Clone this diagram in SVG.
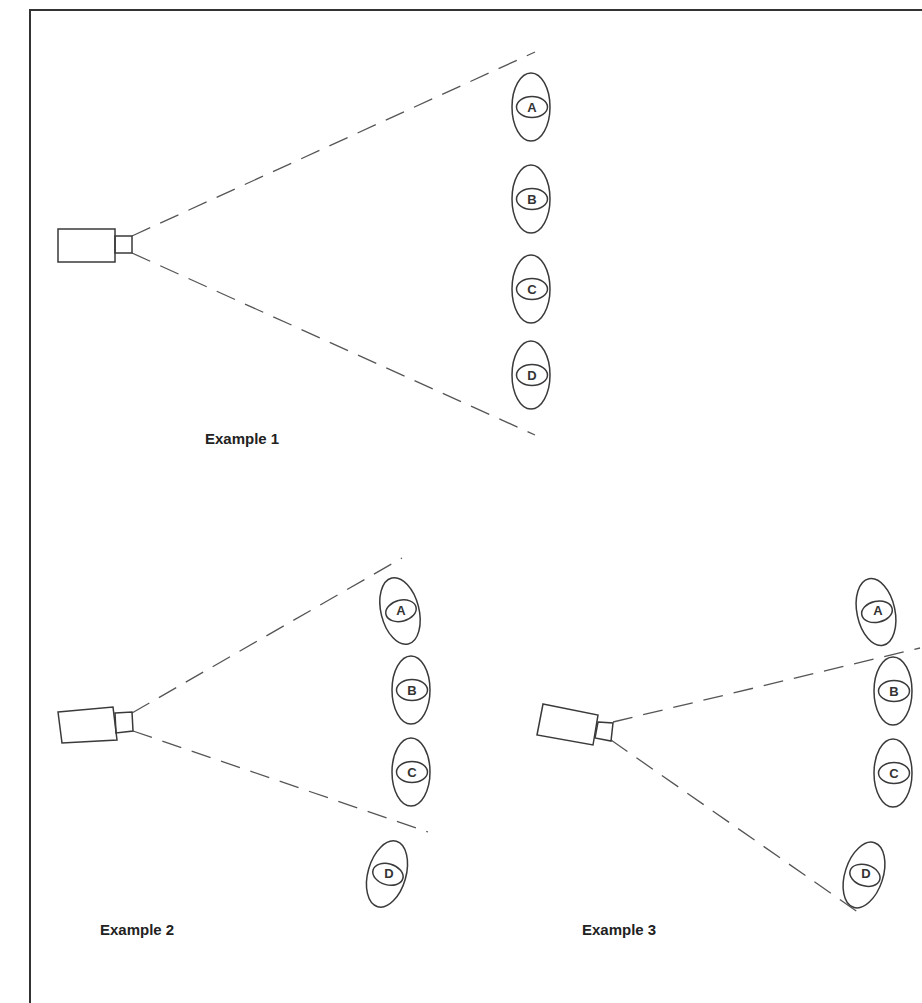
<svg xmlns="http://www.w3.org/2000/svg" width="922" height="1003" viewBox="0 0 922 1003">
<style>
.s{fill:none;stroke:#3a3a3a;stroke-width:1.5}
.d{fill:none;stroke:#555;stroke-width:1.3;stroke-dasharray:20 11}
.l{font-family:"Liberation Sans",Arial,sans-serif;font-weight:bold;font-size:13px;fill:#333;text-anchor:middle}
.t{font-family:"Liberation Sans",Arial,sans-serif;font-weight:bold;font-size:15px;fill:#222}
</style>
<defs>
<g id="p">
<ellipse class="s" cx="0" cy="0" rx="19" ry="34"/>
<ellipse class="s" cx="1" cy="0" rx="15.5" ry="10.5"/>
</g>
</defs>
<rect width="922" height="1003" fill="#fff"/>
<path d="M30 1003 V10 H922" fill="none" stroke="#333" stroke-width="2"/>
<g id="connectors">
<line class="d" x1="132" y1="236" x2="535" y2="52"/>
<line class="d" x1="132" y1="253" x2="535" y2="435"/>
<line class="d" x1="132" y1="713" x2="402" y2="558"/>
<line class="d" x1="133" y1="731" x2="428" y2="832"/>
<line class="d" x1="613" y1="722" x2="920" y2="648"/>
<line class="d" x1="611" y1="740" x2="862" y2="915"/>
</g>
<g id="camera1">
<rect class="s" x="58" y="229" width="57" height="33"/>
<rect class="s" x="115" y="236" width="17" height="17"/>
</g>
<g id="camera2">
<polygon class="s" points="58,712 113,707 117,740 62,743"/>
<polygon class="s" points="115,713 132,712 133,731 116,733"/>
</g>
<g id="camera3">
<polygon class="s" points="543,704 598,715 593,745 537,735"/>
<polygon class="s" points="598,722 613,723 611,741 595,738"/>
</g>
<g id="e1A"><use href="#p" x="531" y="107"/><text class="l" x="532" y="112">A</text></g>
<g id="e1B"><use href="#p" x="531" y="199"/><text class="l" x="532" y="204">B</text></g>
<g id="e1C"><use href="#p" x="531" y="289"/><text class="l" x="532" y="294">C</text></g>
<g id="e1D"><use href="#p" x="531" y="375"/><text class="l" x="532" y="380">D</text></g>
<g id="e2A"><use href="#p" transform="translate(400,611) rotate(-14)"/><text class="l" x="401" y="615">A</text></g>
<g id="e2B"><use href="#p" x="411" y="690"/><text class="l" x="412" y="695">B</text></g>
<g id="e2C"><use href="#p" x="411" y="772"/><text class="l" x="412" y="777">C</text></g>
<g id="e2D"><use href="#p" transform="translate(387,874) rotate(16)"/><text class="l" x="389" y="878">D</text></g>
<g id="e3A"><use href="#p" transform="translate(876,612) rotate(-12)"/><text class="l" x="878" y="615">A</text></g>
<g id="e3B"><use href="#p" x="893" y="691"/><text class="l" x="894" y="696">B</text></g>
<g id="e3C"><use href="#p" x="893" y="773"/><text class="l" x="894" y="778">C</text></g>
<g id="e3D"><use href="#p" transform="translate(864,875) rotate(18)"/><text class="l" x="866" y="878">D</text></g>
<text class="t" x="205" y="444">Example 1</text>
<text class="t" x="100" y="935">Example 2</text>
<text class="t" x="582" y="935">Example 3</text>
</svg>
